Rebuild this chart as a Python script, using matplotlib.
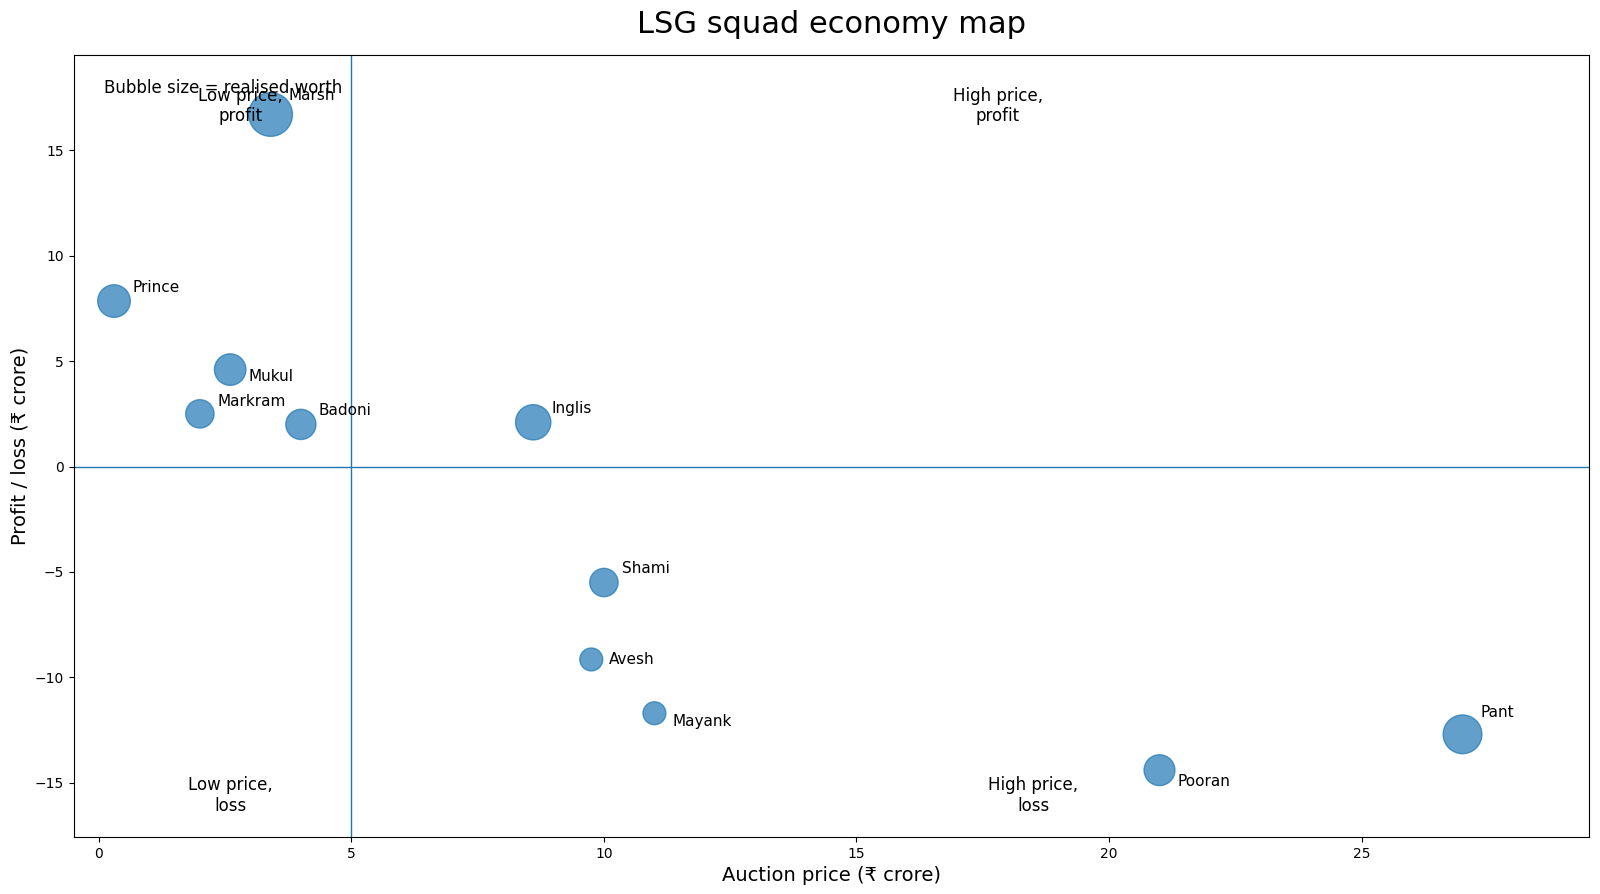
import numpy as np
import matplotlib
matplotlib.use("Agg")
import matplotlib.pyplot as plt

players = ["Prince", "Mukul", "Markram", "Badoni", "Marsh", "Inglis",
           "Shami", "Avesh", "Mayank", "Pooran", "Pant"]
price = [0.3, 2.6, 2.0, 4.0, 3.4, 8.6, 10.0, 9.75, 11.0, 21.0, 27.0]
profit = [7.85, 4.6, 2.5, 2.0, 16.7, 2.1, -5.5, -9.15, -11.7, -14.4, -12.7]
worth = [8.15, 7.2, 4.5, 6.0, 20.1, 10.7, 4.5, 0.6, 0.6, 6.6, 14.3]

# label offsets (points)
offsets = {"Prince": (13, 10), "Mukul": (13, -5), "Markram": (13, 9),
           "Badoni": (13, 10), "Marsh": (13, 14), "Inglis": (13, 10),
           "Shami": (13, 10), "Avesh": (13, 0), "Mayank": (13, -6),
           "Pooran": (13, -8), "Pant": (13, 16)}

fig, ax = plt.subplots(figsize=(16, 8.94), dpi=100)

sizes = 250 + 37 * np.array(worth)
ax.scatter(price, profit, s=sizes, alpha=0.7, color="C0")

for name, x, y in zip(players, price, profit):
    ax.annotate(name, (x, y), xytext=offsets[name], textcoords="offset points",
                ha="left", va="center", fontsize=11)

ax.axvline(5, color="C0", linewidth=1)
ax.axhline(0, color="C0", linewidth=1)

ax.text(2.8, 17.1, "Low price,\nprofit", ha="center", va="center", fontsize=12)
ax.text(17.8, 17.1, "High price,\nprofit", ha="center", va="center", fontsize=12)
ax.text(2.6, -15.6, "Low price,\nloss", ha="center", va="center", fontsize=12)
ax.text(18.5, -15.6, "High price,\nloss", ha="center", va="center", fontsize=12)
ax.text(0.02, 0.97, "Bubble size = realised worth", transform=ax.transAxes,
        ha="left", va="top", fontsize=12)

ax.set_xlim(-0.5, 29.5)
ax.set_ylim(-17.56, 19.5)
ax.set_xlabel("Auction price (₹ crore)", fontsize=14)
ax.set_ylabel("Profit / loss (₹ crore)", fontsize=14)
ax.set_title("LSG squad economy map", fontsize=22, pad=16)

fig.subplots_adjust(left=0.046, right=0.993, top=0.938, bottom=0.064)
fig.savefig("out.png", dpi=100)
